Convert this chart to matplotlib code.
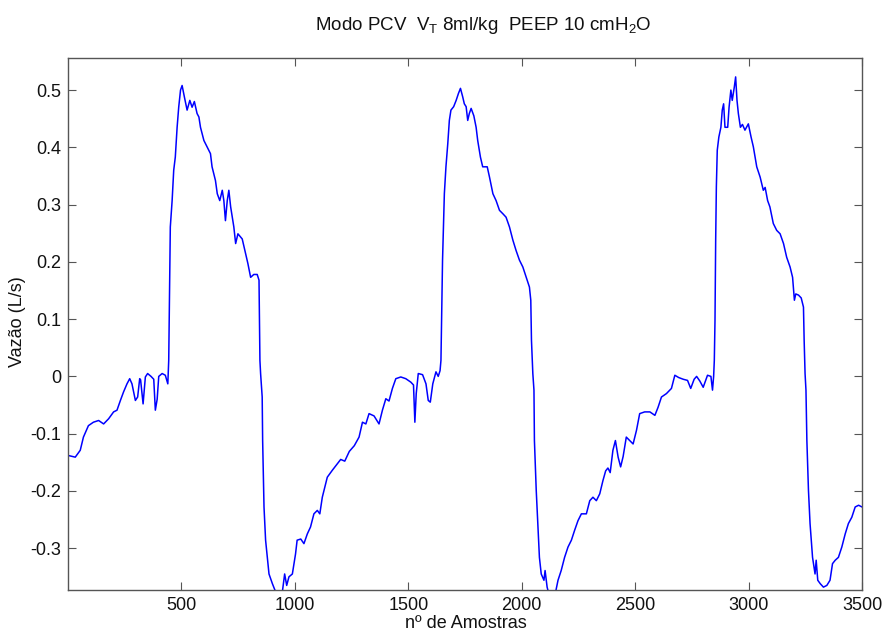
import numpy as np
import matplotlib
matplotlib.use("Agg")
import matplotlib.pyplot as plt

plt.rcParams['font.family'] = ['Liberation Sans', 'DejaVu Sans']
plt.rcParams['mathtext.fontset'] = 'custom'
plt.rcParams['mathtext.rm'] = 'Liberation Sans'
plt.rcParams['mathtext.it'] = 'Liberation Sans'

# Segment A: expiration (start)
xa = [0, 32, 54, 68, 90, 112, 135, 157, 179, 201, 216, 231, 245, 260, 272, 282, 297, 307, 316, 320,
      331, 341, 351, 366, 378, 385, 393, 400, 415, 429, 440]
ya = [-0.138, -0.141, -0.129, -0.106, -0.086, -0.080, -0.077, -0.083, -0.074, -0.062, -0.059, -0.042,
      -0.027, -0.013, -0.004, -0.013, -0.042, -0.036, -0.004, -0.006, -0.048, -0.001, 0.005, 0.0,
      -0.005, -0.059, -0.040, 0.0, 0.005, 0.002, -0.013]

# Segment B: inspiration 1
xb = [444, 451, 459, 466, 473, 481, 488, 496, 503, 513, 525, 537, 547, 557, 569, 577, 584, 599, 613,
      628, 635, 650, 658, 669, 680, 687, 694, 702, 709, 717, 731, 739, 749, 768, 783, 793, 805, 819,
      834, 842]
yb = [0.028, 0.261, 0.307, 0.360, 0.383, 0.435, 0.470, 0.500, 0.508, 0.488, 0.465, 0.482, 0.470,
      0.480, 0.459, 0.453, 0.435, 0.412, 0.401, 0.389, 0.366, 0.342, 0.319, 0.307, 0.325, 0.307,
      0.272, 0.307, 0.325, 0.296, 0.261, 0.232, 0.249, 0.240, 0.214, 0.197, 0.173, 0.178, 0.178, 0.168]

# Segment C: expiration 2
xc = [846, 849, 856, 858, 864, 871, 886, 901, 915, 930, 945, 955, 964, 974, 989, 1003, 1010, 1026,
      1040, 1055, 1069, 1084, 1099, 1110, 1121, 1136, 1143, 1165, 1188, 1202, 1220, 1240, 1262, 1283,
      1298, 1313, 1327, 1349, 1371, 1386, 1401, 1415, 1430, 1445, 1467, 1489, 1511, 1523, 1529, 1535,
      1544, 1563, 1578, 1588, 1597, 1608, 1622, 1632, 1640]
yc = [0.028, 0.005, -0.036, -0.112, -0.228, -0.286, -0.345, -0.362, -0.376, -0.385, -0.376, -0.345,
      -0.365, -0.350, -0.345, -0.310, -0.286, -0.284, -0.292, -0.275, -0.263, -0.240, -0.234, -0.240,
      -0.211, -0.187, -0.176, -0.164, -0.152, -0.145, -0.148, -0.131, -0.121, -0.106, -0.080, -0.083,
      -0.065, -0.069, -0.083, -0.059, -0.039, -0.043, -0.021, -0.004, -0.001, -0.004, -0.010, -0.015,
      -0.080, -0.030, 0.005, 0.003, -0.013, -0.042, -0.045, -0.013, 0.008, 0.0, 0.010]

# Segment D: inspiration 2
xd = [1644, 1651, 1659, 1666, 1674, 1681, 1688, 1700, 1711, 1721, 1730, 1740, 1747, 1755, 1762, 1769,
      1777, 1789, 1799, 1806, 1818, 1828, 1848, 1858, 1873, 1887, 1902, 1917, 1931, 1946, 1961, 1975,
      1990, 2005, 2020, 2034, 2040]
yd = [0.028, 0.203, 0.319, 0.366, 0.406, 0.447, 0.465, 0.471, 0.482, 0.494, 0.503, 0.488, 0.476,
      0.471, 0.447, 0.459, 0.468, 0.455, 0.435, 0.412, 0.383, 0.366, 0.366, 0.348, 0.319, 0.307,
      0.290, 0.284, 0.278, 0.261, 0.238, 0.220, 0.203, 0.191, 0.173, 0.156, 0.133]

# Segment E: expiration 3
xe = [2043, 2049, 2054, 2056, 2064, 2071, 2078, 2086, 2098, 2103, 2112, 2123, 2145, 2160, 2174, 2189,
      2204, 2219, 2233, 2248, 2263, 2285, 2300, 2314, 2329, 2344, 2358, 2370, 2380, 2390, 2402, 2413,
      2425, 2436, 2447, 2461, 2476, 2491, 2506, 2520, 2542, 2565, 2587, 2601, 2616, 2638, 2660, 2675,
      2692, 2712, 2731, 2745, 2760, 2771, 2785, 2800, 2819, 2834, 2841, 2846]
ye = [0.063, 0.005, -0.024, -0.112, -0.199, -0.257, -0.316, -0.345, -0.356, -0.339, -0.368, -0.385,
      -0.385, -0.356, -0.339, -0.316, -0.298, -0.286, -0.269, -0.252, -0.240, -0.240, -0.217, -0.211,
      -0.217, -0.205, -0.182, -0.165, -0.160, -0.168, -0.129, -0.112, -0.141, -0.158, -0.140, -0.106,
      -0.112, -0.118, -0.094, -0.065, -0.062, -0.062, -0.068, -0.054, -0.036, -0.030, -0.021, 0.002,
      -0.002, -0.005, -0.007, -0.021, -0.005, 0.0, -0.008, -0.019, 0.002, 0.0, -0.024, 0.0]

# Segment F: inspiration 3
xf = [2849, 2852, 2855, 2858, 2862, 2869, 2878, 2884, 2890, 2896, 2908, 2914, 2922, 2928, 2937, 2943,
      2949, 2955, 2964, 2973, 2984, 2999, 3011, 3021, 3036, 3051, 3065, 3073, 3084, 3094, 3109, 3124,
      3139, 3154, 3168, 3183, 3194, 3202, 3208, 3220, 3232, 3242]
yf = [0.028, 0.098, 0.238, 0.331, 0.395, 0.418, 0.435, 0.465, 0.476, 0.435, 0.435, 0.470, 0.500,
      0.482, 0.505, 0.523, 0.482, 0.459, 0.435, 0.440, 0.430, 0.441, 0.418, 0.401, 0.366, 0.348,
      0.325, 0.330, 0.307, 0.296, 0.267, 0.255, 0.249, 0.232, 0.208, 0.191, 0.173, 0.133, 0.144,
      0.142, 0.137, 0.121]

# Segment G: expiration 4
xg = [3245, 3249, 3253, 3257, 3264, 3271, 3282, 3293, 3298, 3305, 3316, 3330, 3345, 3359, 3370, 3382,
      3396, 3411, 3426, 3440, 3455, 3470, 3485, 3500]
yg = [0.063, 0.005, -0.024, -0.112, -0.199, -0.257, -0.316, -0.345, -0.321, -0.356, -0.362, -0.368,
      -0.365, -0.356, -0.327, -0.321, -0.316, -0.298, -0.275, -0.257, -0.246, -0.228, -0.225, -0.228]

x_ticks = [500, 1000, 1500, 2000, 2500, 3000, 3500]
y_ticks = [-0.3, -0.2, -0.1, 0, 0.1, 0.2, 0.3, 0.4, 0.5]
y_labels = ['-0.3', '-0.2', '-0.1', '0', '0.1', '0.2', '0.3', '0.4', '0.5']

samples = np.concatenate([xa, xb, xc, xd, xe, xf, xg])
flow = np.concatenate([ya, yb, yc, yd, ye, yf, yg])

fig = plt.figure(figsize=(8.84, 6.34), dpi=100)
ax = fig.add_axes([68/884, 44/634, (862-68)/884, (590-58)/634])
ax.plot(samples, flow, color='#0000ff', lw=1.1)
ax.set_xlim(0, 3500)
ax.set_ylim(-0.373, 0.556)
ax.set_xticks(x_ticks)
ax.set_yticks(y_ticks)
ax.set_yticklabels(y_labels)
ax.tick_params(direction='in', top=True, right=True, length=6, width=0.8,
               labelsize=13, colors='#555555', labelcolor='#111111', pad=5)
for s in ax.spines.values():
    s.set_color('#555555')
    s.set_linewidth(1.0)
fig.text(483/884, 1 - 26/634, r'Modo PCV  V$_\mathregular{T}$ 8ml/kg  PEEP 10 cmH$_\mathregular{2}$O',
         fontsize=13.5, ha='center', va='center', color='#111111')
ax.set_xlabel('nº de Amostras', fontsize=13, color='#111111')
ax.xaxis.set_label_coords((466 - 68) / 794, (590 - 624) / 532)
ax.xaxis.label.set_va('center')
ax.set_ylabel('Vazão (L/s)', fontsize=13, color='#111111')
ax.yaxis.set_label_coords((18 - 68) / 794, (590 - 322) / 532)
ax.yaxis.label.set_va('center')

fig.savefig('out.png', dpi=100)
